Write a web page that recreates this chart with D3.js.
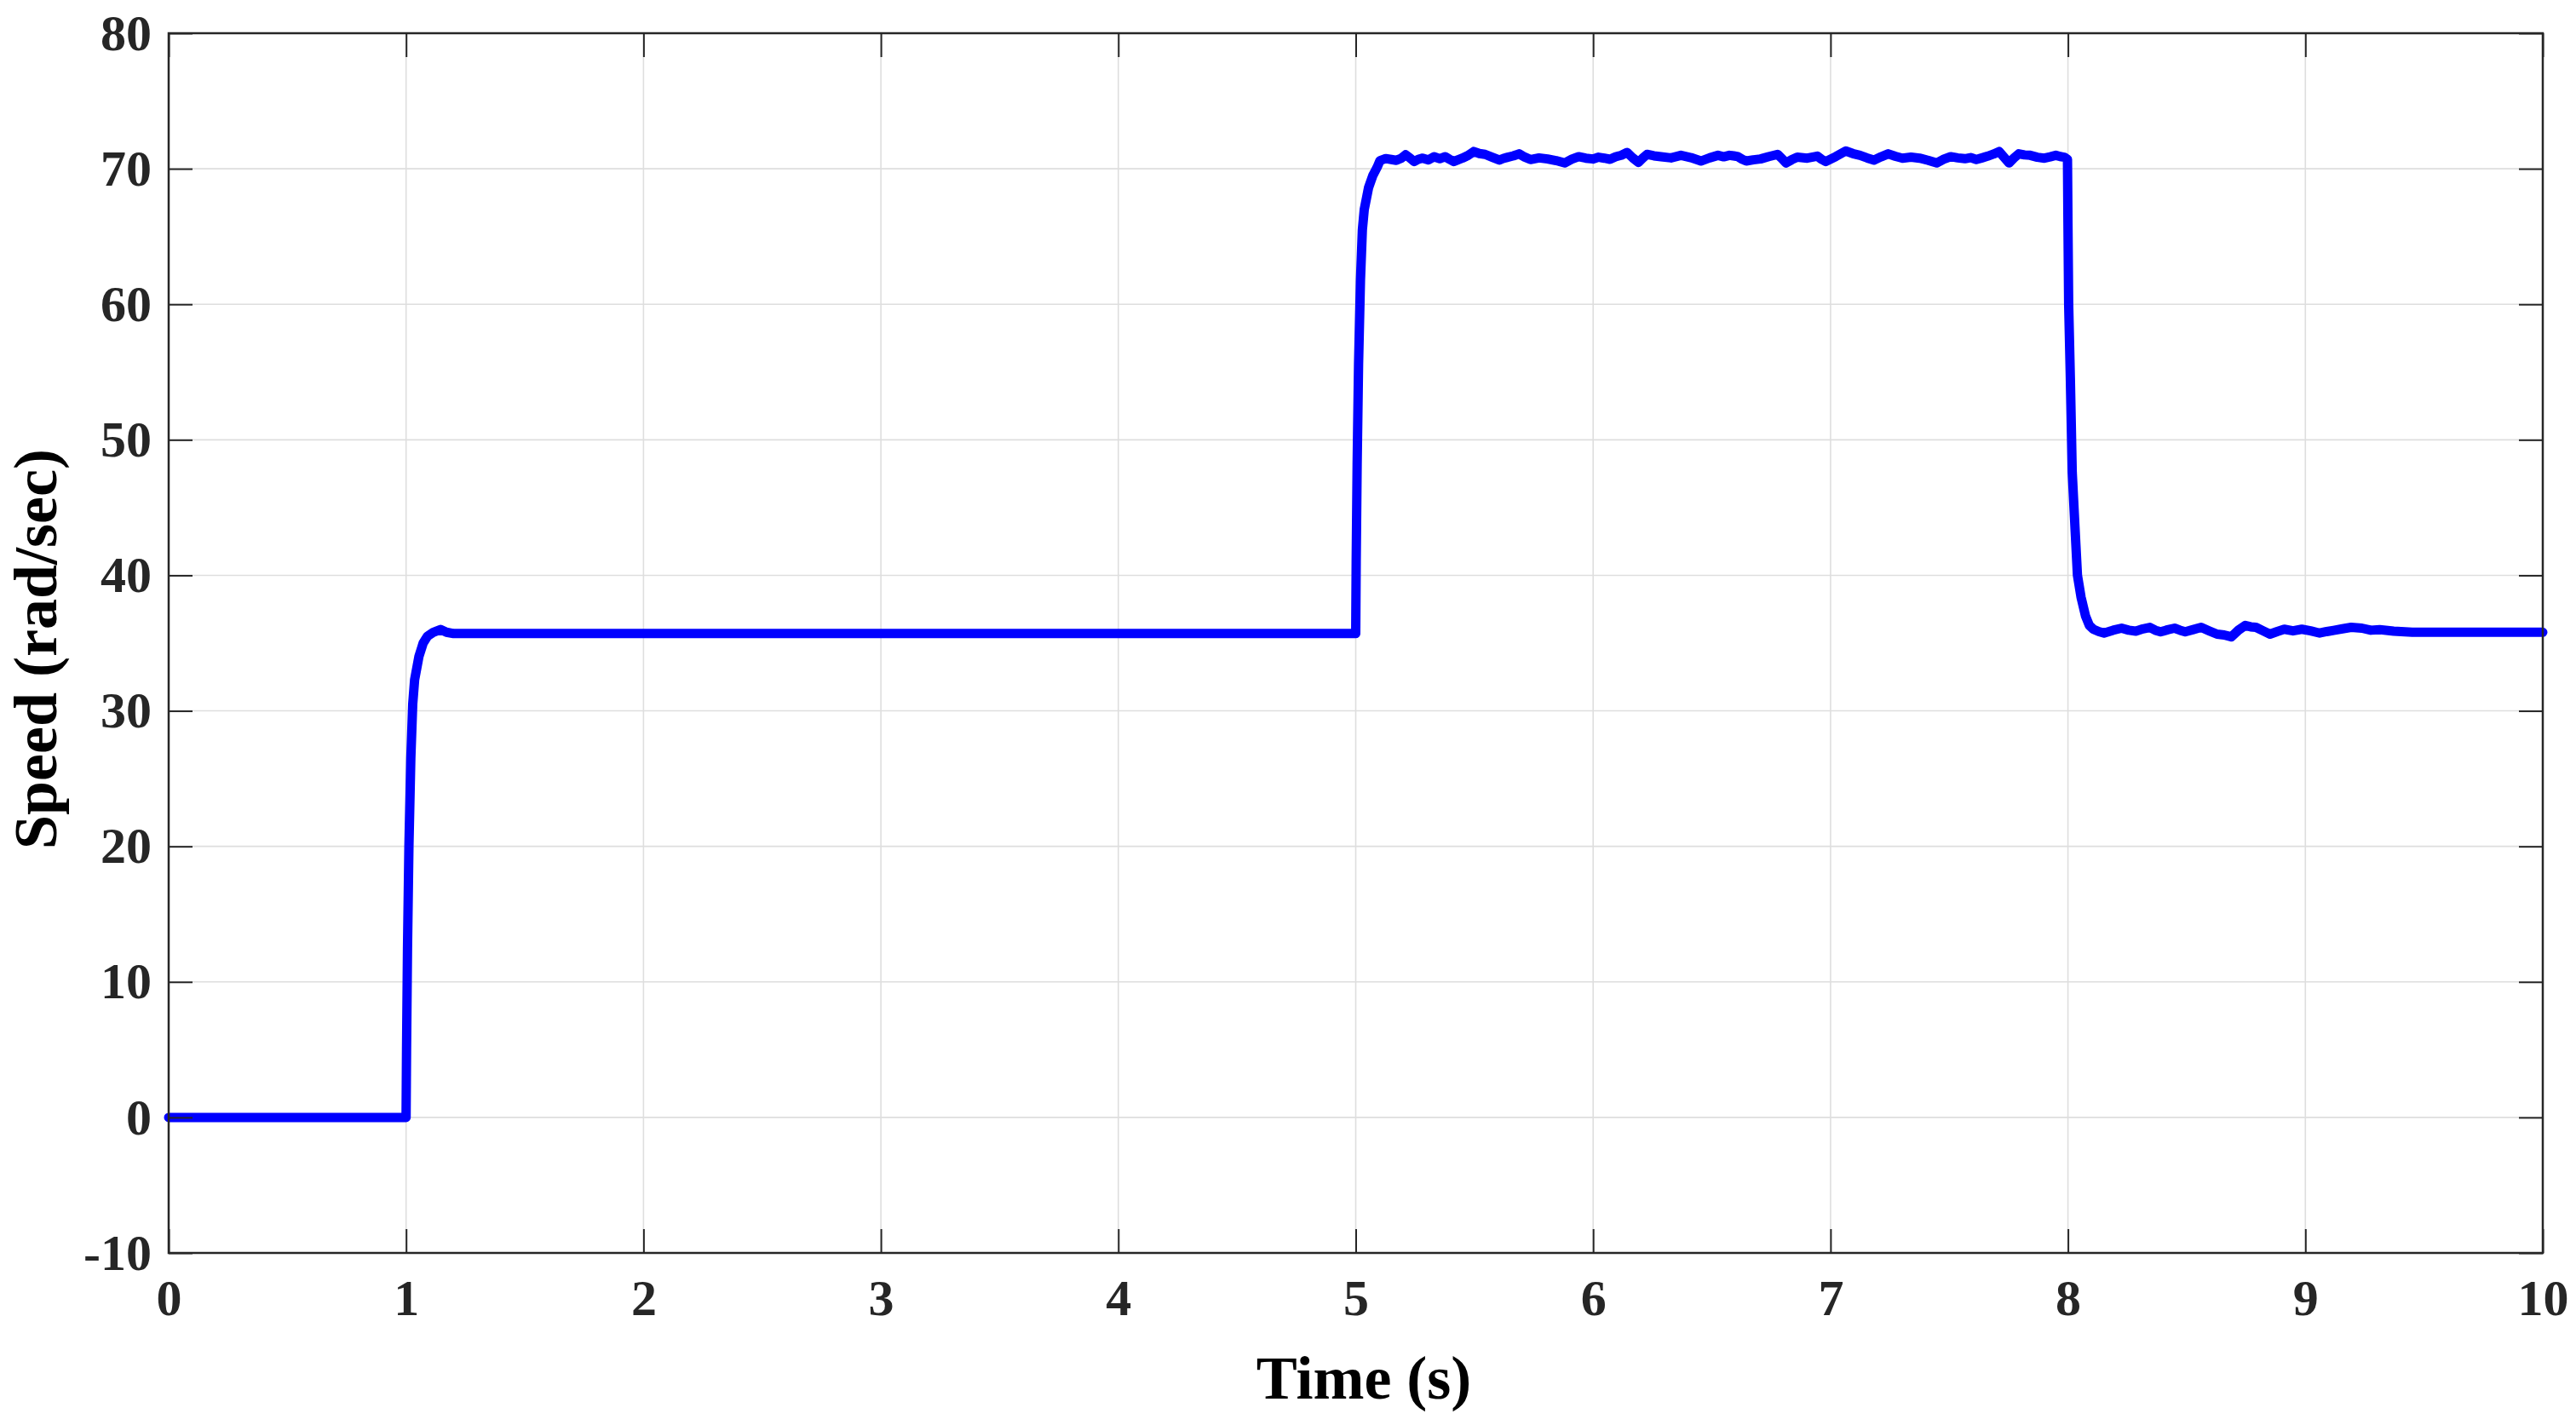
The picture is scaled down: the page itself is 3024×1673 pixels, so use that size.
<!DOCTYPE html>
<html>
<head>
<meta charset="utf-8">
<script src="https://cdn.jsdelivr.net/npm/d3@7"></script>
<style>
  html, body { margin: 0; padding: 0; background: #ffffff; }
  svg { display: block; }
</style>
</head>
<body>
<svg id="chart" width="3024" height="1673"></svg>
<script>
// ---- data ----
const xTicks = [0, 1, 2, 3, 4, 5, 6, 7, 8, 9, 10];
const yTicks = [-10, 0, 10, 20, 30, 40, 50, 60, 70, 80];
const xLabel = "Time (s)";
const yLabel = "Speed (rad/sec)";

const time = [
  0, 1.000, 1.002, 1.006, 1.012, 1.020, 1.028, 1.036, 1.054, 1.072, 1.090, 1.115, 1.145, 1.170, 1.200,
  5.000, 5.002, 5.006, 5.012, 5.020, 5.028, 5.036, 5.054, 5.072, 5.090, 5.102,
  5.126, 5.150, 5.171, 5.192, 5.210, 5.228, 5.246, 5.264, 5.282, 5.306, 5.330, 5.354, 5.377, 5.395,
  5.413, 5.431, 5.449, 5.473, 5.497, 5.521, 5.545, 5.575, 5.605, 5.622, 5.640, 5.664, 5.688, 5.712,
  5.736, 5.772, 5.808, 5.844, 5.880, 5.910, 5.939, 5.969, 5.999, 6.023, 6.047, 6.071, 6.095, 6.119,
  6.143, 6.167, 6.191, 6.209, 6.227, 6.256, 6.286, 6.328, 6.370, 6.412, 6.454, 6.490, 6.526, 6.550,
  6.574, 6.592, 6.610, 6.628, 6.645, 6.675, 6.705, 6.741, 6.777, 6.795, 6.813, 6.836, 6.860, 6.902,
  6.944, 6.962, 6.980, 7.022, 7.064, 7.094, 7.124, 7.154, 7.183, 7.213, 7.243, 7.273, 7.303, 7.339,
  7.375, 7.411, 7.447, 7.477, 7.506, 7.536, 7.566, 7.590, 7.614, 7.638, 7.662, 7.686, 7.710, 7.731,
  7.752, 7.773, 7.793, 7.817, 7.841, 7.871, 7.901, 7.925, 7.949, 7.967, 7.985, 7.998,
  8.000, 8.003, 8.010, 8.018, 8.030, 8.040, 8.055, 8.074, 8.090, 8.107,
  8.130, 8.152, 8.190, 8.226, 8.256, 8.286, 8.316, 8.345, 8.368, 8.390, 8.420, 8.449, 8.472, 8.494,
  8.528, 8.561, 8.595, 8.628, 8.658, 8.688, 8.718, 8.747, 8.770, 8.792, 8.822, 8.851, 8.881, 8.911,
  8.948, 8.985, 9.022, 9.060, 9.090, 9.119, 9.156, 9.193, 9.238, 9.276, 9.313, 9.372, 9.450, 10.000
];
const speed = [
  0, 0, 5.0, 12.5, 20.0, 26.5, 30.5, 32.3, 34.0, 35.0, 35.5, 35.8, 36.0, 35.8, 35.7,
  35.7, 41.0, 48.2, 55.6, 61.8, 65.5, 67.0, 68.6, 69.5, 70.1, 70.6,
  70.75, 70.68, 70.62, 70.78, 71.03, 70.80, 70.53, 70.70, 70.78, 70.65, 70.89, 70.74, 70.89, 70.70,
  70.53, 70.66, 70.78, 70.98, 71.27, 71.12, 71.06, 70.85, 70.64, 70.76, 70.85, 70.95, 71.10, 70.86,
  70.68, 70.80, 70.72, 70.60, 70.43, 70.70, 70.89, 70.78, 70.72, 70.85, 70.78, 70.70, 70.89, 71.00,
  71.20, 70.80, 70.47, 70.78, 71.06, 70.95, 70.89, 70.80, 70.99, 70.82, 70.57, 70.80, 70.99, 70.88,
  70.99, 70.95, 70.89, 70.70, 70.57, 70.66, 70.72, 70.90, 71.06, 70.75, 70.43, 70.66, 70.85, 70.78,
  70.93, 70.70, 70.53, 70.90, 71.31, 71.12, 70.99, 70.80, 70.64, 70.88, 71.10, 70.92, 70.78, 70.86,
  70.78, 70.62, 70.43, 70.70, 70.89, 70.80, 70.74, 70.82, 70.68, 70.80, 70.93, 71.08, 71.27, 70.85,
  70.43, 70.80, 71.10, 71.02, 70.99, 70.85, 70.78, 70.88, 70.99, 70.90, 70.85, 70.70,
  66.0, 60.0, 54.6, 47.6, 43.4, 40.0, 38.4, 37.0, 36.3, 36.02,
  35.85, 35.74, 35.95, 36.10, 35.95, 35.88, 36.05, 36.16, 35.95, 35.83, 35.98, 36.10, 35.95, 35.83,
  36.00, 36.16, 35.90, 35.66, 35.60, 35.46, 35.95, 36.30, 36.20, 36.16, 35.90, 35.66, 35.85, 36.02,
  35.90, 36.02, 35.90, 35.74, 35.85, 35.94, 36.05, 36.16, 36.10, 35.95, 35.99, 35.88, 35.80, 35.80
];

// ---- layout ----
const W = 3024, H = 1673;
const plot = { left: 198, right: 2985, top: 39, bottom: 1471 };
const FONT = "'Liberation Serif', 'Times New Roman', Times, serif";
const axisColor = "#262626";

const svg = d3.select("#chart");
svg.append("rect").attr("width", W).attr("height", H).attr("fill", "#ffffff");

const x = d3.scaleLinear().domain([0, 10]).range([plot.left, plot.right]);
const y = d3.scaleLinear().domain([-10, 80]).range([plot.bottom, plot.top]);

// grid
const grid = svg.append("g").attr("class", "grid");
grid.selectAll("line.gx").data(xTicks.slice(1, -1)).join("line")
  .attr("x1", d => x(d)).attr("x2", d => x(d))
  .attr("y1", plot.top).attr("y2", plot.bottom)
  .attr("stroke", "#dedede").attr("stroke-width", 1.6);
grid.selectAll("line.gy").data(yTicks.slice(1, -1)).join("line")
  .attr("x1", plot.left).attr("x2", plot.right)
  .attr("y1", d => y(d)).attr("y2", d => y(d))
  .attr("stroke", "#dedede").attr("stroke-width", 1.6);

// data line
const pts = time.map((t, i) => [t, speed[i]]);
const line = d3.line().x(d => x(d[0])).y(d => y(d[1])).curve(d3.curveLinear);
svg.append("path").datum(pts)
  .attr("d", line)
  .attr("fill", "none")
  .attr("stroke", "#0000ff")
  .attr("stroke-width", 11)
  .attr("stroke-linejoin", "round")
  .attr("stroke-linecap", "round");

// axes (ticks inward, on all four sides)
const tickLen = 28;
const fmt = d => String(d);
function styleAxis(g, showLabels) {
  g.select(".domain").remove();
  g.selectAll(".tick line").attr("stroke", axisColor).attr("stroke-width", 2);
  g.selectAll(".tick text")
    .attr("fill", axisColor)
    .style("font-family", FONT)
    .style("font-weight", "bold")
    .style("font-size", "60px");
  if (!showLabels) g.selectAll(".tick text").remove();
}

svg.append("g").attr("transform", `translate(0,${plot.bottom})`)
  .call(d3.axisBottom(x).tickValues(xTicks).tickFormat(fmt).tickSizeInner(-tickLen).tickSizeOuter(0).tickPadding(30))
  .call(g => styleAxis(g, true));
svg.append("g").attr("transform", `translate(0,${plot.top})`)
  .call(d3.axisTop(x).tickValues(xTicks).tickSizeInner(-tickLen).tickSizeOuter(0))
  .call(g => styleAxis(g, false));
svg.append("g").attr("transform", `translate(${plot.left},0)`)
  .call(d3.axisLeft(y).tickValues(yTicks).tickFormat(fmt).tickSizeInner(-tickLen).tickSizeOuter(0).tickPadding(20))
  .call(g => styleAxis(g, true));
svg.append("g").attr("transform", `translate(${plot.right},0)`)
  .call(d3.axisRight(y).tickValues(yTicks).tickSizeInner(-tickLen).tickSizeOuter(0))
  .call(g => styleAxis(g, false));

// box
svg.append("rect")
  .attr("x", plot.left).attr("y", plot.top)
  .attr("width", plot.right - plot.left).attr("height", plot.bottom - plot.top)
  .attr("fill", "none").attr("stroke", axisColor).attr("stroke-width", 2.5);

// axis titles
svg.append("text")
  .attr("x", 1601).attr("y", 1642)
  .attr("text-anchor", "middle")
  .style("font-family", FONT).style("font-weight", "bold").style("font-size", "72px")
  .attr("fill", "#000000")
  .text(xLabel);

svg.append("text")
  .attr("transform", `translate(66,762) rotate(-90)`)
  .attr("text-anchor", "middle")
  .style("font-family", FONT).style("font-weight", "bold").style("font-size", "72px")
  .attr("fill", "#000000")
  .text(yLabel);
</script>
</body>
</html>
